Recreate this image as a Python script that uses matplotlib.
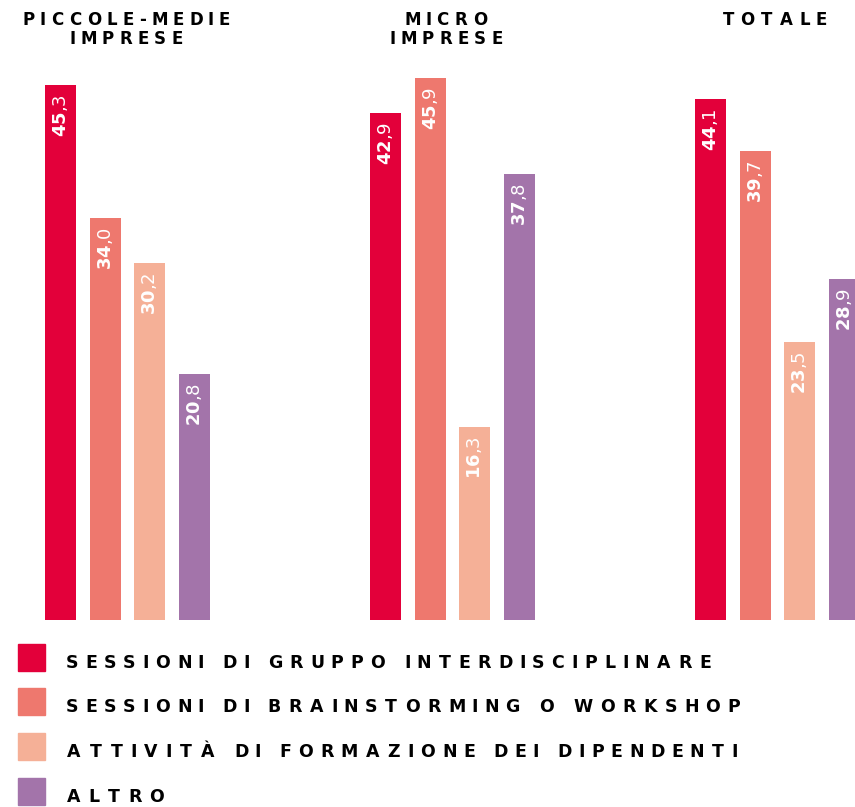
import matplotlib
matplotlib.use("Agg")
import matplotlib.pyplot as plt
import numpy as np
from matplotlib.font_manager import FontProperties
from matplotlib.textpath import TextPath
from matplotlib.transforms import IdentityTransform, offset_copy


plt.rcParams["mathtext.fontset"] = "custom"
plt.rcParams["mathtext.rm"] = "DejaVu Sans"
plt.rcParams["mathtext.bf"] = "DejaVu Sans:bold"

W, H = 855, 807

groups = [["PICCOLE-MEDIE", "IMPRESE"], ["MICRO", "IMPRESE"], ["TOTALE"]]
series = [
    "SESSIONI DI GRUPPO INTERDISCIPLINARE",
    "SESSIONI DI BRAINSTORMING O WORKSHOP",
    "ATTIVITÀ DI FORMAZIONE DEI DIPENDENTI",
    "ALTRO",
]
gruppo = [45.3, 42.9, 44.1]
brainstorming = [34.0, 45.9, 39.7]
formazione = [30.2, 16.3, 23.5]
altro = [20.8, 37.8, 28.9]
values = [gruppo, brainstorming, formazione, altro]
colors = ["#E3003A", "#EE786E", "#F5B097", "#A374AA"]

fig = plt.figure(figsize=(W / 100, H / 100), dpi=100)
ax = fig.add_axes([0, 187 / H, 1, 590.5 / H])
ax.set_xlim(-0.3923, 2.2385)
ax.set_ylim(0, 50)
ax.axis("off")

step = 0.1375
width = 0.0954
x = np.arange(len(groups))

label_tr = offset_copy(ax.transData, fig=fig, x=0, y=-9, units="dots")
for i, (vals, col) in enumerate(zip(values, colors)):
    xs = x + (i - 1.5) * step
    ax.bar(xs, vals, width=width, color=col, linewidth=0)
    for xi, v in zip(xs, vals):
        whole, dec = f"{v:.1f}".split(".")
        ax.text(xi, v, f"$\\mathbf{{{whole}}}$,{dec}", transform=label_tr,
                rotation=90, ha="center", va="top", color="white",
                fontsize=13, family="DejaVu Sans")


def tracked(s, x0, baseline, size=12.5, gap=9, word_gap=23, align="left"):
    # letter-spaced caps, one glyph at a time, in figure pixels (y from top)
    fp = FontProperties(family="DejaVu Sans", weight="bold", size=size)
    items = []
    for ch in s:
        if ch == " ":
            items.append((ch, 0))
        else:
            ext = TextPath((0, 0), ch, prop=fp).get_extents()
            items.append((ch, ext.width * fig.dpi / 72))
    pos = []
    cur = 0
    prev_space = False
    for ch, w in items:
        if ch == " ":
            prev_space = True
            continue
        if pos:
            cur += word_gap if prev_space else gap
        pos.append((ch, cur + w / 2))
        cur += w
        prev_space = False
    if align == "center":
        x0 = x0 - cur / 2
    for ch, c in pos:
        fig.text(x0 + c, H - baseline, ch, transform=IdentityTransform(),
                 ha="center", va="baseline", fontproperties=fp, color="black")


centers = [126, 446, 774]
for lines, cx in zip(groups, centers):
    for j, line in enumerate(lines):
        tracked(line, cx, 25 + j * 19, size=12, gap=7.6, align="center")

box_tops = [644, 688, 733, 778]
for name, col, top in zip(series, colors, box_tops):
    fig.patches.append(plt.Rectangle((18, H - top - 27), 27, 27, color=col,
                                     transform=IdentityTransform(), figure=fig))
    tracked(name, 67, top + 24, gap=9.4, word_gap=21)

fig.savefig("out.png", dpi=100)
